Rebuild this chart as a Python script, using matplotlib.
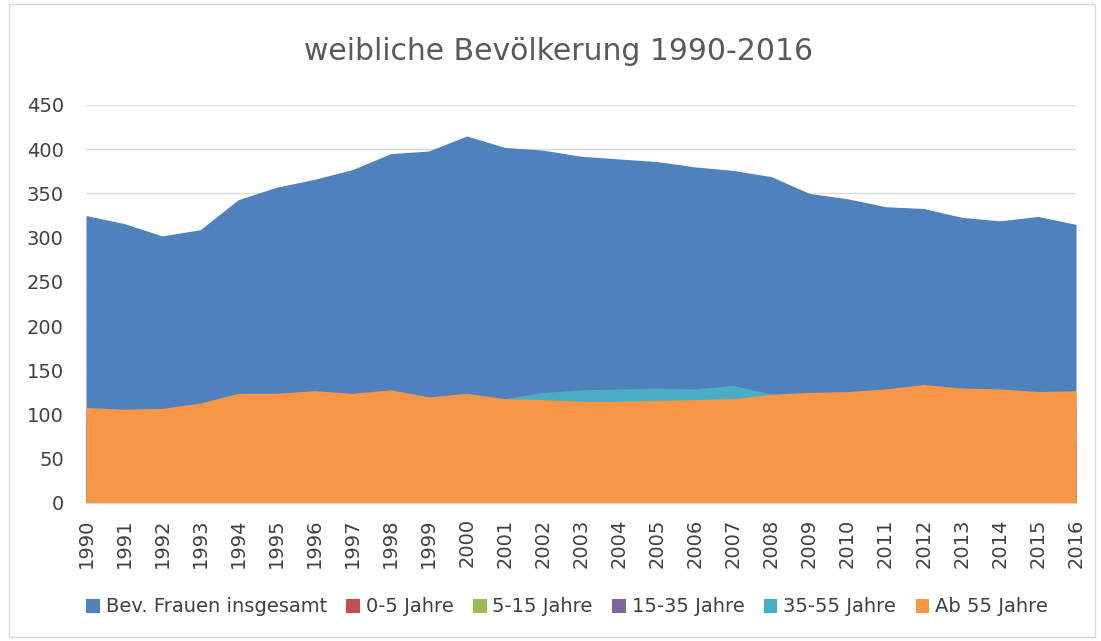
import matplotlib
matplotlib.use("Agg")
import matplotlib.pyplot as plt
import numpy as np

years = list(range(1990, 2017))

# Bev. Frauen insgesamt (Tausend)
total = [325, 316, 302, 309, 343, 357, 366, 377, 395, 398, 415, 402, 399,
         392, 389, 386, 380, 376, 369, 350, 344, 335, 333, 323, 319, 324, 315]
# hidden behind the front series
age_0_5 = [15, 14, 13, 12, 12, 13, 13, 14, 14, 14, 15, 14, 14,
           13, 13, 13, 13, 13, 13, 12, 12, 12, 12, 12, 12, 13, 13]
age_5_15 = [40, 40, 39, 38, 38, 39, 40, 41, 42, 42, 43, 42, 41,
            40, 39, 38, 37, 36, 35, 33, 32, 31, 30, 29, 28, 28, 28]
age_15_35 = [95, 92, 88, 88, 96, 98, 100, 101, 104, 103, 106, 102, 100,
             97, 95, 93, 90, 88, 85, 80, 78, 75, 73, 70, 68, 70, 67]
age_35_55 = [90, 90, 88, 90, 100, 104, 108, 110, 116, 117, 118, 118, 125,
             128, 129, 130, 129, 133, 123, 118, 116, 114, 112, 110, 108, 110, 108]
age_55 = [108, 106, 107, 113, 124, 124, 127, 124, 128, 120, 124, 118, 117,
          115, 115, 116, 117, 118, 123, 125, 126, 129, 134, 130, 129, 126, 127]

series = [
    ("Bev. Frauen insgesamt", total, "#4f81bd"),
    ("0-5 Jahre", age_0_5, "#c0504d"),
    ("5-15 Jahre", age_5_15, "#9bbb59"),
    ("15-35 Jahre", age_15_35, "#8064a2"),
    ("35-55 Jahre", age_35_55, "#4bacc6"),
    ("Ab 55 Jahre", age_55, "#f79646"),
]

plt.rcParams['font.family'] = ['DejaVu Sans']

fig = plt.figure(figsize=(11.01, 6.41), dpi=100)
ax = fig.add_axes([86 / 1101, 1 - 503 / 641, 990 / 1101, 398 / 641])

for name, vals, col in series:
    ax.fill_between(years, 0, vals, color=col, linewidth=0, label=name)

ax.set_xlim(1990, 2016)
ax.set_ylim(0, 450)
ax.set_yticks(np.arange(0, 451, 50))
ax.set_xticks(years)
ax.set_xticklabels([str(y) for y in years], rotation=90, fontsize=14, color="#404040")
ax.tick_params(axis='y', length=0, pad=16, labelsize=14, labelcolor="#404040")
ax.tick_params(axis='x', length=0, pad=11)
ax.grid(axis='y', color="#d9d9d9", linewidth=1)
ax.set_axisbelow(True)
for s in ['top', 'right', 'left']:
    ax.spines[s].set_visible(False)
ax.spines['bottom'].set_color("#d9d9d9")

fig.text(0.507, 1 - 51 / 641, "weibliche Bevölkerung 1990-2016", ha='center', va='center',
         fontsize=21.5, color="#595959")

handles, labels = ax.get_legend_handles_labels()
fig.legend(handles, labels, loc='center', bbox_to_anchor=(0.515, 1 - 607 / 641), ncol=6,
           frameon=False, fontsize=14, handlelength=0.7, handleheight=0.7,
           handletextpad=0.3, columnspacing=1.0, labelcolor="#404040")

border = plt.Rectangle((9 / 1101, 4 / 641), 1086 / 1101, 633 / 641, transform=fig.transFigure,
                       fill=False, edgecolor="#d9d9d9", linewidth=1)
fig.patches.append(border)

fig.savefig("out.png", dpi=100)
